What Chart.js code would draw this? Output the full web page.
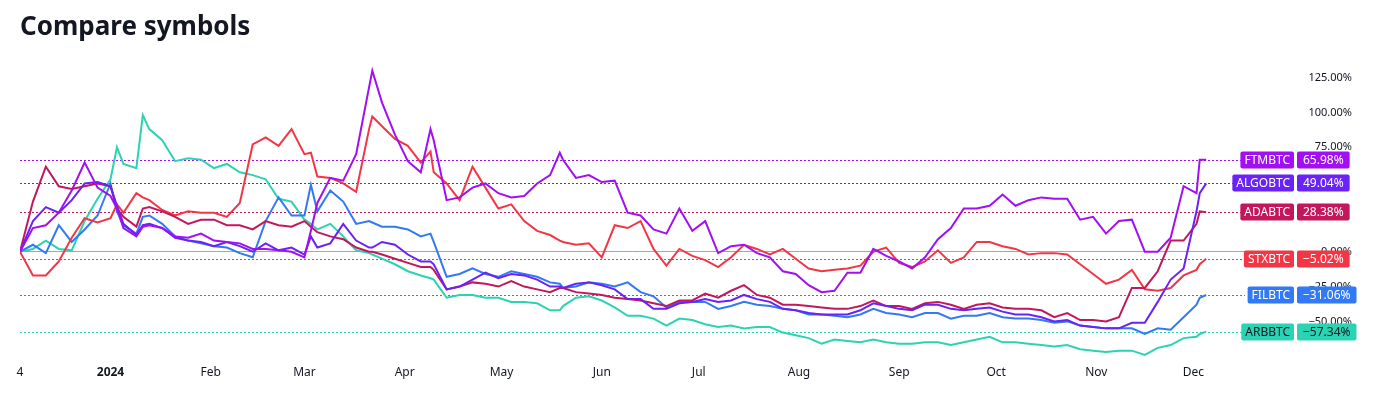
<!DOCTYPE html>
<html>
<head>
<meta charset="utf-8">
<title>Compare symbols</title>
<script src="https://cdn.jsdelivr.net/npm/chart.js@4.4.1/dist/chart.umd.min.js"></script>
<style>
  html, body { margin: 0; padding: 0; background: #fff; }
  #wrap { position: relative; width: 1376px; height: 399px; }
  #title { position: absolute; left: 20px; top: 9px; font: 700 26px/32px "Noto Sans", sans-serif; color: #131722; }
  canvas { position: absolute; left: 0; top: 0; }
</style>
</head>
<body>
<div id="wrap">
  <canvas id="compareChart" width="1376" height="399"></canvas>
  <div id="title">Compare symbols</div>
</div>
<script>
// days since 4 Dec 2023
const days = [
  0, 4, 8, 12, 16, 20, 24, 28, 30, 32, 36, 38, 40, 44, 48, 52, 56, 60,
  64, 68, 72, 76, 80, 84, 88, 90, 92, 96, 100, 104, 108, 109, 112, 116, 120,
  124, 127, 128, 132, 136, 140, 144, 148, 152, 156, 160, 164, 167, 168, 172, 176, 180,
  184, 188, 192, 196, 200, 204, 208, 212, 216, 220, 224, 228, 232, 236, 240,
  244, 248, 252, 256, 260, 264, 268, 272, 276, 280, 284, 288, 292, 296, 300,
  304, 308, 312, 316, 320, 324, 328, 332, 336, 340, 344, 348, 352, 356, 360, 364, 365, 367
];

// % change vs start
const ftmbtc = [
  0, 17, 19, 28, 44, 64, 46, 40, 31, 17, 11, 18, 19, 17, 11, 10, 13, 8,
  7, 6, 2, 2, 1, 0, -4, 15, 35, 53, 51, 70, 118, 130, 107, 84, 65,
  57, 88, 80, 37, 39, 46, 49, 42, 39, 40, 49, 55, 71, 66, 53, 55, 50,
  51, 28, 26, 16, 13, 31, 15, 22, -1, 4, 5, -1, -4, -14, -16,
  -24, -29, -28, -15, -15, 2, -3, -7, -12, -4, 9, 17, 31, 31, 33,
  41, 33, 37, 39, 38, 38, 23, 25, 13, 22, 23, 0, 0, 10, 47, 42, 66, 65.98
];
const algobtc = [
  0, 22, 32, 28, 37, 49, 50, 47, 33, 20, 12, 19, 20, 17, 10, 8, 7, 4,
  7, 4, 0, 6, 1, 3, -2, 11, 3, 6, 20, 8, 3, 3, 7, 5, -2,
  -7, -7, -9, -27, -25, -20, -15, -19, -16, -17, -20, -25, -25, -26, -23, -22, -24,
  -27, -34, -34, -41, -41, -37, -36, -34, -36, -35, -31, -34, -36, -41, -42,
  -44, -45, -45, -45, -42, -37, -39, -41, -42, -38, -38, -41, -42, -41, -40,
  -43, -45, -45, -47, -50, -49, -53, -54, -55, -55, -51, -51, -36, -20, -12, 29, 42, 49.04
];
const adabtc = [
  0, 36, 61, 47, 45, 47, 49, 47, 31, 25, 18, 31, 32, 29, 25, 20, 23, 23,
  19, 19, 16, 22, 19, 18, 22, 18, 14, 11, 9, 3, 0, 0, -2, -5, -8,
  -11, -11, -13, -27, -25, -22, -23, -25, -21, -25, -27, -29, -26, -26, -29, -30, -31,
  -33, -34, -35, -37, -39, -35, -35, -30, -33, -28, -24, -31, -33, -38, -38,
  -39, -40, -41, -41, -39, -35, -39, -39, -41, -37, -36, -38, -41, -38, -37,
  -40, -41, -41, -42, -47, -44, -49, -49, -50, -47, -26, -26, -14, 8, 8, 20, 29, 28.38
];
const stxbtc = [
  0, -17, -17, -7, 10, 24, 21, 24, 34, 28, 42, 39, 37, 30, 26, 29, 28, 28,
  25, 35, 77, 82, 76, 88, 70, 71, 54, 53, 49, 43, 88, 97, 90, 81, 76,
  64, 72, 57, 49, 37, 61, 46, 31, 34, 22, 15, 12, 8, 7, 5, 6, -4,
  19, 17, 22, 2, -10, 2, -3, -6, -11, -4, 5, 2, -2, 2, -5,
  -12, -14, -13, -12, -10, 0, 3, -8, -11, -7, 1, -8, -4, 7, 7,
  4, 2, -2, -1, -1, -2, -9, -16, -23, -20, -13, -27, -28, -26, -17, -13, -9, -5.02
];
const filbtc = [
  0, 5, -1, 19, 7, 16, 26, 49, 29, 19, 13, 25, 26, 20, 11, 8, 6, 4,
  3, -1, -4, 22, 39, 26, 26, 48, 29, 44, 36, 20, 22, 21, 18, 18, 16,
  11, 13, 7, -18, -16, -12, -16, -18, -14, -16, -18, -22, -23, -26, -25, -22, -23,
  -25, -22, -29, -32, -40, -36, -36, -36, -41, -39, -36, -38, -39, -41, -42,
  -45, -45, -46, -47, -45, -41, -44, -45, -47, -44, -44, -48, -46, -46, -44,
  -47, -48, -48, -49, -51, -50, -53, -54, -55, -55, -55, -59, -55, -56, -47, -38, -33, -31.06
];
const arbbtc = [
  0, 2, 8, 2, 1, 22, 38, 52, 75, 63, 60, 98, 88, 80, 65, 67, 66, 60,
  63, 57, 55, 52, 38, 36, 23, 20, 16, 20, 11, 1, -1, -2, -5, -9, -14,
  -17, -19, -20, -33, -31, -31, -33, -33, -36, -36, -37, -42, -42, -39, -33, -32, -35,
  -40, -46, -46, -48, -53, -48, -49, -52, -54, -53, -55, -54, -54, -58, -60,
  -62, -66, -63, -64, -65, -63, -65, -66, -66, -65, -65, -67, -65, -63, -61,
  -65, -65, -66, -67, -68, -67, -70, -71, -72, -71, -71, -74, -69, -67, -62, -61, -59, -57.34
];

const symbols = ['FTMBTC', 'ALGOBTC', 'ADABTC', 'STXBTC', 'FILBTC', 'ARBBTC'];

// axis ticks
const monthTicks = [0, 28, 59, 88, 119, 149, 180, 210, 241, 272, 302, 333, 363];
const monthLabels = ['4', '2024', 'Feb', 'Mar', 'Apr', 'May', 'Jun', 'Jul', 'Aug', 'Sep', 'Oct', 'Nov', 'Dec'];
const yTicks = [-50, -25, 0, 75, 100, 125];

const lineColors = ['#a20ff2', '#6a22f5', '#c2185b', '#f23645', '#3179f5', '#2bd3b2'];
const tagTextColors = ['#fff', '#fff', '#fff', '#fff', '#fff', '#131722'];

const series = [ftmbtc, algobtc, adabtc, stxbtc, filbtc, arbbtc];

function pct(v) {
    return (v < 0 ? '\u2212' : '') + Math.abs(v).toFixed(2) + '%';
}

// dotted last-value lines and the name/value tags on the right
const lastValueTags = {
    id: 'lastValueTags',
    beforeDatasetsDraw(chart) {
        const { ctx, chartArea, scales: { y } } = chart;
        ctx.save();
        ctx.lineWidth = 1;
        ctx.setLineDash([2, 2]);
        chart.data.datasets.forEach(ds => {
            const last = ds.data[ds.data.length - 1].y;
            const py = Math.round(y.getPixelForValue(last)) + 0.5;
            ctx.strokeStyle = ds.borderColor;
            ctx.beginPath();
            ctx.moveTo(chartArea.left, py);
            ctx.lineTo(chartArea.right, py);
            ctx.stroke();
        });
        ctx.restore();
    },
    afterDraw(chart) {
        const { ctx, chartArea, scales: { y } } = chart;
        ctx.save();
        ctx.font = '12px "Noto Sans", sans-serif';
        ctx.textBaseline = 'middle';
        ctx.textAlign = 'center';
        chart.data.datasets.forEach(ds => {
            const last = ds.data[ds.data.length - 1].y;
            const py = Math.round(y.getPixelForValue(last));
            const valueText = pct(last);
            const nameW = ctx.measureText(ds.label).width + 8;
            const valW = ctx.measureText(valueText).width + 12;
            const nameRight = chartArea.right + 49;
            const valLeft = chartArea.right + 52;

            ctx.fillStyle = ds.borderColor;
            ctx.beginPath();
            ctx.roundRect(nameRight - nameW, py - 8.5, nameW, 17, 2);
            ctx.fill();
            ctx.beginPath();
            ctx.roundRect(valLeft, py - 8.5, valW, 17, 2);
            ctx.fill();

            ctx.fillStyle = ds.tagText;
            ctx.fillText(ds.label, nameRight - nameW / 2, py + 1);
            ctx.fillText(valueText, valLeft + valW / 2, py + 1);
        });
        ctx.restore();
    }
};

new Chart(document.getElementById('compareChart').getContext('2d'), {
    type: 'line',
    data: {
        datasets: symbols.map((name, i) => ({
            label: name,
            data: days.map((d, j) => ({ x: d, y: series[i][j] })),
            borderColor: lineColors[i],
            tagText: tagTextColors[i],
            borderWidth: 2,
            pointRadius: 0,
            tension: 0,
            fill: false
        }))
    },
    options: {
        responsive: false,
        devicePixelRatio: 1,
        animation: false,
        layout: { padding: { left: 20, right: 24, top: 60, bottom: 0 } },
        plugins: {
            legend: { display: false },
            tooltip: { enabled: false },
            title: { display: false }
        },
        scales: {
            x: {
                type: 'linear',
                min: 0,
                max: 379,
                afterBuildTicks(scale) {
                    scale.ticks = monthTicks.map(v => ({ value: v }));
                },
                afterFit(scale) { scale.height = 39; },
                grid: { display: false, drawTicks: false },
                border: { display: false },
                ticks: {
                    autoSkip: false,
                    maxRotation: 0,
                    padding: 5,
                    color: '#131722',
                    font: ctx => ({
                        family: '"Noto Sans", sans-serif',
                        size: 12,
                        weight: monthLabels[monthTicks.indexOf(ctx.tick && ctx.tick.value)] === '2024' ? 'bold' : 'normal'
                    }),
                    callback: v => monthLabels[monthTicks.indexOf(v)]
                }
            },
            y: {
                position: 'right',
                min: -77.7,
                max: 137.6,
                afterBuildTicks(scale) {
                    scale.ticks = yTicks.map(v => ({ value: v }));
                },
                afterFit(scale) { scale.width = 107; },
                grid: {
                    drawTicks: true,
                    tickLength: 59,
                    tickColor: 'transparent',
                    color: ctx => (ctx.tick && ctx.tick.value === 0 ? '#a3a6af' : 'transparent'),
                    lineWidth: 1
                },
                border: { display: false },
                ticks: {
                    crossAlign: 'far',
                    padding: 3,
                    color: '#131722',
                    font: { family: '"Noto Sans", sans-serif', size: 11 },
                    callback: v => pct(v)
                }
            }
        }
    },
    plugins: [lastValueTags]
});
</script>
</body>
</html>
